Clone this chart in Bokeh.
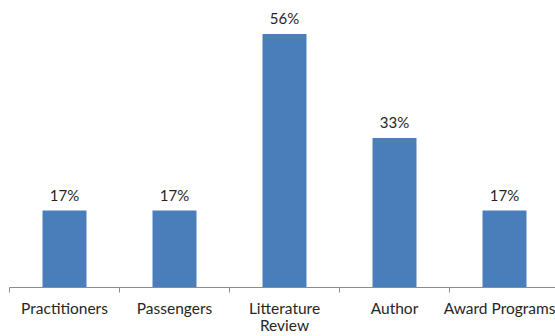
from bokeh.plotting import figure
from bokeh.models import ColumnDataSource, Range1d, FixedTicker
from bokeh.core.properties import value
from bokeh.embed import file_html
from bokeh.resources import INLINE

# Chart data
categories = ["Practitioners", "Passengers", "Litterature\nReview", "Author", "Award Programs"]
percentages = [17, 17, 56, 33, 17]
value_labels = ["17%", "17%", "56%", "33%", "17%"]

FONT = "Lato"
TEXT_COLOR = "#262626"
BAR_COLOR = "#4a7ebb"

# one unit per category, bars centred in each slot
centers = [i + 0.5 for i in range(len(categories))]
boundaries = [float(i) for i in range(len(categories) + 1)]

source = ColumnDataSource(data=dict(
    x=centers,
    top=percentages,
    label=value_labels,
))

p = figure(
    width=555, height=336,
    x_range=Range1d(0, 4.9636),
    y_range=Range1d(0, 63.4),
    output_backend="svg",
    toolbar_location=None,
    min_border_left=9, min_border_right=0,
    min_border_top=0, min_border_bottom=0,
)

p.vbar(x="x", top="top", width=0.4, bottom=0, source=source,
       fill_color=BAR_COLOR, line_color=None)

p.text(x="x", y="top", text="label", source=source,
       text_align="center", text_baseline="bottom", y_offset=-7,
       text_font=value(FONT), text_font_size="15px", text_color=TEXT_COLOR)

# x axis: labels at category centres, small tick marks at the slot boundaries
xa = p.xaxis[0]
xa.ticker = FixedTicker(ticks=centers, minor_ticks=boundaries)
xa.major_label_overrides = {c: name for c, name in zip(centers, categories)}
xa.major_tick_out = 0
xa.major_tick_in = 0
xa.minor_tick_out = 5
xa.minor_tick_in = 0
xa.minor_tick_line_color = "#8c8c8c"
xa.axis_line_color = "#8c8c8c"
xa.axis_line_width = 1
xa.major_label_standoff = 6
xa.major_label_text_font = FONT
xa.major_label_text_font_size = "15.5px"
xa.major_label_text_line_height = 0.97
xa.major_label_text_color = TEXT_COLOR

p.yaxis.visible = False
p.xgrid.visible = False
p.ygrid.visible = False
p.outline_line_color = None

open("out.html", "w").write(file_html(p, INLINE))
